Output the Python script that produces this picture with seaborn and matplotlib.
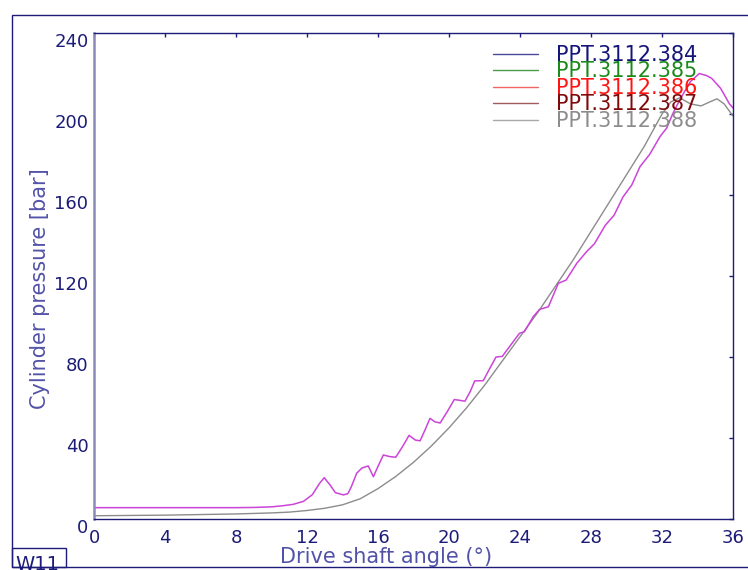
import numpy as np
import pandas as pd
import matplotlib
matplotlib.use("Agg")
import matplotlib.pyplot as plt
from matplotlib.lines import Line2D
from matplotlib.patches import Rectangle
import seaborn as sns

# ---- data ----
angle_meas = [0, 2, 4, 6, 8, 9, 10, 10.6, 11.2, 11.8, 12.3, 12.7, 12.97, 13.3, 13.6,
              14.05, 14.3, 14.5, 14.8, 15.1, 15.45, 15.74, 16.0, 16.3, 16.68, 17.0,
              17.4, 17.75, 18.1, 18.37, 18.65, 18.93, 19.2, 19.5, 19.9, 20.3, 20.9,
              21.2, 21.45, 21.93, 22.3, 22.65, 23.0, 23.4, 23.97, 24.25, 24.75, 25.1,
              25.6, 26.16, 26.6, 27.2, 27.75, 28.2, 28.8, 29.3, 29.8, 30.3, 30.76,
              31.3, 31.9, 32.26, 32.6, 33.0, 33.6, 34.1, 34.5, 34.8, 35.3, 35.8, 36.0]
pressure_meas = [5.6, 5.6, 5.6, 5.6, 5.6, 5.7, 6.0, 6.5, 7.2, 8.7, 12.0, 17.5, 20.4, 16.8, 13.0,
                 11.9, 12.5, 16.0, 22.6, 25.2, 26.2, 20.9, 26.0, 31.6, 30.8, 30.5,
                 36.0, 41.3, 39.0, 38.6, 44.0, 49.7, 48.0, 47.4, 53.0, 59.0, 58.2,
                 63.0, 68.2, 68.3, 74.4, 80.0, 80.3, 85.0, 91.7, 92.5, 100.0, 103.5,
                 104.8, 116.4, 118.0, 126.3, 132.0, 136.0, 145.0, 150.0, 159.0, 165.0, 174.0,
                 180.0, 189.0, 193.0, 200.0, 207.0, 216.0, 220.0, 219.0, 217.6, 212.7, 205.0, 203.0]

angle_ref = [0, 4, 8, 10, 11, 12, 13, 14, 15, 16, 17, 18, 19, 20, 21, 22, 23, 24, 25, 26,
             27, 28, 29, 30, 31, 31.5, 32, 32.5, 33, 33.6, 34.2, 34.7, 35.1, 35.5, 36]
pressure_ref = [1.6, 1.9, 2.5, 3.0, 3.4, 4.2, 5.3, 7.0, 10, 15, 21, 28, 36, 45, 55, 66, 78, 90,
                102, 115, 128, 142, 156, 170, 184, 192, 200, 206, 208, 205, 204, 206, 207.5, 205, 199]

legend_labels = ["PPT.3112.384", "PPT.3112.385", "PPT.3112.386", "PPT.3112.387", "PPT.3112.388"]
x_ticks = [0, 4, 8, 12, 16, 20, 24, 28, 32, 36]
y_ticks = [0, 40, 80, 120, 160, 200, 240]

# ---- style ----
sns.set_theme(style="white")
plt.rcParams["font.family"] = ["DejaVu Sans"]

navy = "#1c1c78"
label_col = "#5252a8"

W, H = 748, 570
fig = plt.figure(figsize=(W / 100, H / 100), dpi=100)
fig.patch.set_facecolor("white")
ax = fig.add_axes([94 / W, 1 - 519 / H, (733 - 94) / W, (519 - 33) / H])

df_meas = pd.DataFrame({"angle": angle_meas, "pressure": pressure_meas})
df_ref = pd.DataFrame({"angle": angle_ref, "pressure": pressure_ref})
sns.lineplot(data=df_ref, x="angle", y="pressure", ax=ax, color="#8c8c8c", linewidth=1.0, sort=False)
sns.lineplot(data=df_meas, x="angle", y="pressure", ax=ax, color="#cc44d8", linewidth=1.1, sort=False)

ax.set_xlim(0, 36)
ax.set_ylim(0, 240)
ax.set_xticks(x_ticks)
ax.set_yticks(y_ticks)
ax.set_xticklabels([str(v) for v in x_ticks])
ax.set_yticklabels([str(v) for v in y_ticks])

ax.tick_params(axis="both", which="both", colors=navy, labelcolor=navy, labelsize=13,
               length=3, width=1)
ax.tick_params(axis="x", direction="out", pad=4, top=True, labeltop=False)
ax.tick_params(axis="y", direction="out", pad=1, right=True, labelright=False)
# top/right ticks inward
for t in ax.xaxis.get_major_ticks():
    t.tick2line.set_marker(3)  # TICKDOWN
for t in ax.yaxis.get_major_ticks():
    t.tick2line.set_marker(0)  # TICKLEFT
for lab in ax.get_yticklabels():
    lab.set_verticalalignment("top")

for side in ["top", "right", "bottom"]:
    ax.spines[side].set_color(navy)
    ax.spines[side].set_linewidth(1.0)
ax.spines["left"].set_color("#8a8ab8")
ax.spines["left"].set_linewidth(1.8)

ax.set_xlabel("Drive shaft angle (°)", color=label_col, fontsize=15)
ax.set_ylabel("Cylinder pressure [bar]", color=label_col, fontsize=15)
ax.xaxis.set_label_coords((386 - 94) / 639, (519 - 557) / 486)
ax.yaxis.set_label_coords((40 - 94) / 639, (519 - 289) / 486)
ax.xaxis.label.set_verticalalignment("center")
ax.yaxis.label.set_verticalalignment("center")

# legend
line_cols = ["#4a4a9c", "#4a9c4a", "#f06666", "#a05a5a", "#a8a8a8"]
text_cols = ["#14147a", "#1a8a1a", "#ff1414", "#800a0a", "#8c8c8c"]
handles = [Line2D([0], [0], color=c, lw=1.0) for c in line_cols]
leg = ax.legend(handles, legend_labels, loc="upper left",
                bbox_to_anchor=((493 - 94) / 639, (519 - 45) / 486),
                frameon=False, fontsize=15, handlelength=2.15, handletextpad=0.85,
                labelspacing=-0.17, borderaxespad=0, borderpad=0)
for txt, c in zip(leg.get_texts(), text_cols):
    txt.set_color(c)

# outer frame and W11 box
fig.patches.append(Rectangle((12 / W, 1 - 567 / H), 1.2, (567 - 15) / H,
                             transform=fig.transFigure, fill=False,
                             edgecolor=navy, linewidth=1.0, clip_on=False))
fig.patches.append(Rectangle((12 / W, 1 - 567 / H), (66 - 12) / W, (567 - 548) / H,
                             transform=fig.transFigure, fill=False,
                             edgecolor=navy, linewidth=1.0, clip_on=False))
fig.text(15 / W, 1 - 555 / H, "W11", color=navy, fontsize=14, va="top", ha="left")

fig.savefig("out.png", dpi=100, facecolor="white")
